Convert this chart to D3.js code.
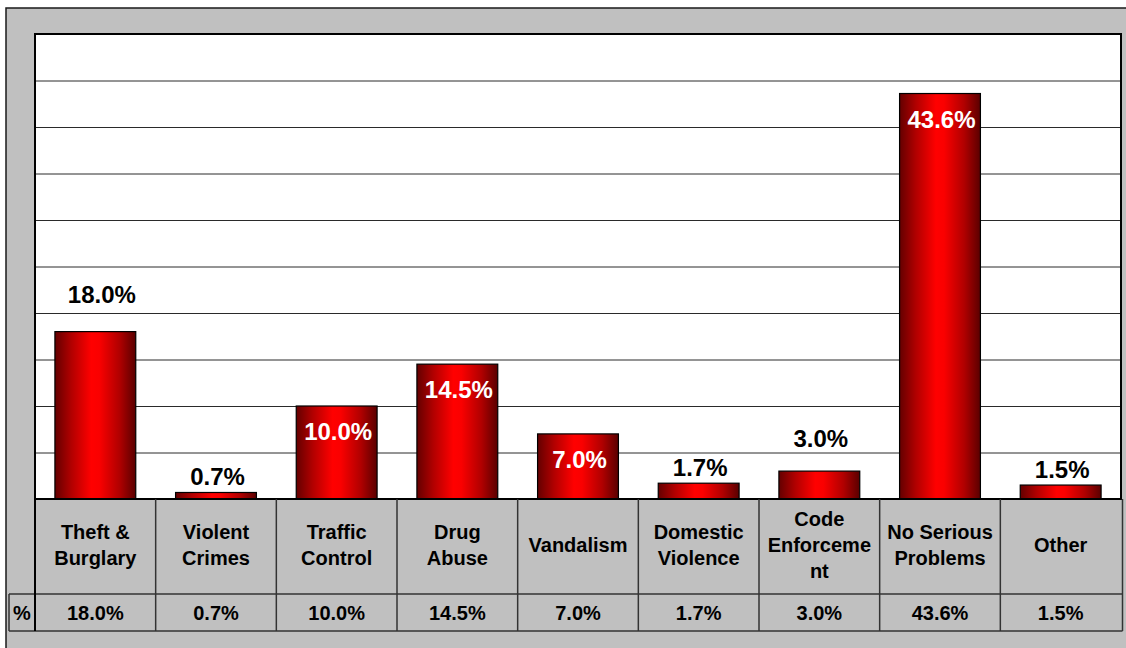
<!DOCTYPE html>
<html>
<head>
<meta charset="utf-8">
<script src="https://cdn.jsdelivr.net/npm/d3@7/dist/d3.min.js"></script>
<style>
  html, body { margin: 0; padding: 0; background: #ffffff; }
  svg { display: block; }
  text { font-family: "Liberation Sans", Arial, sans-serif; font-weight: bold; }
</style>
</head>
<body>
<svg id="chart" width="1126" height="648"></svg>
<script>
// Survey responses: most serious neighbourhood problem (share of respondents)
const categories = [
  ["Theft &", "Burglary"],
  ["Violent", "Crimes"],
  ["Traffic", "Control"],
  ["Drug", "Abuse"],
  ["Vandalism"],
  ["Domestic", "Violence"],
  ["Code", "Enforceme", "nt"],
  ["No Serious", "Problems"],
  ["Other"]
];
const values = [18.0, 0.7, 10.0, 14.5, 7.0, 1.7, 3.0, 43.6, 1.5];
const seriesName = "%";
const yTicks = [0, 5, 10, 15, 20, 25, 30, 35, 40, 45, 50];

const fmt = v => v.toFixed(1) + "%";
const keys = categories.map(c => c.join(" "));

const svg = d3.select("#chart");

// frame and plot geometry
const frame = { x: 6, y: 8 };
const plot = { left: 35, right: 1121, top: 34, bottom: 499 };
const table = { catBottom: 594, valBottom: 631, seriesLeft: 9 };

// outer gray chart background
svg.append("rect")
  .attr("x", frame.x).attr("y", frame.y)
  .attr("width", 1126 - frame.x + 4).attr("height", 648 - frame.y + 4)
  .attr("fill", "#c0c0c0").attr("stroke", "#1a1a1a").attr("stroke-width", 1.5);

const x = d3.scaleBand().domain(keys)
  .range([plot.left, plot.right])
  .paddingInner(0.33).paddingOuter(0.165);
const col = d3.scaleBand().domain(keys).range([plot.left, plot.right]).padding(0);
const y = d3.scaleLinear().domain([0, 50]).range([plot.bottom, plot.top]);

// plot area
svg.append("rect")
  .attr("x", plot.left).attr("y", plot.top)
  .attr("width", plot.right - plot.left).attr("height", plot.bottom - plot.top)
  .attr("fill", "#ffffff");

// horizontal gridlines
const grid = d3.axisLeft(y).tickValues(yTicks)
  .tickSize(-(plot.right - plot.left)).tickFormat("");
svg.append("g")
  .attr("transform", `translate(${plot.left},0)`)
  .call(grid)
  .call(g => g.select(".domain").remove())
  .call(g => g.selectAll(".tick line").attr("stroke", "#2a2a2a").attr("stroke-width", 1));

// cylinder-like shading for the bars
const defs = svg.append("defs");
const grad = defs.append("linearGradient").attr("id", "barShade")
  .attr("x1", "0%").attr("x2", "100%").attr("y1", "0%").attr("y2", "0%");
[[0, "#640000"], [0.2, "#b00000"], [0.45, "#ff0000"], [0.55, "#fa0000"], [0.8, "#b00000"], [1, "#5a0000"]]
  .forEach(([o, c]) => grad.append("stop").attr("offset", o).attr("stop-color", c));

svg.append("g").selectAll("rect")
  .data(values)
  .join("rect")
  .attr("x", (d, i) => x(keys[i]))
  .attr("y", d => y(d))
  .attr("width", x.bandwidth())
  .attr("height", d => y(0) - y(d))
  .attr("fill", "url(#barShade)")
  .attr("stroke", "#000000")
  .attr("stroke-width", 1.2);

// value labels: inside (white) for taller bars, above for the rest
const labelStyle = {
  inside: new Set([2, 3, 4, 7]),
  lift: { 0: 29, 6: 24.5 },
  dx: { 0: 5 }
};
svg.append("g").selectAll("text")
  .data(values)
  .join("text")
  .attr("x", (d, i) => x(keys[i]) + x.bandwidth() / 2 + 1.5 + (labelStyle.dx[i] || 0))
  .attr("y", (d, i) => labelStyle.inside.has(i)
    ? y(d) + 34
    : y(d) - (labelStyle.lift[i] !== undefined ? labelStyle.lift[i] : 7.5))
  .attr("text-anchor", "middle")
  .attr("font-size", 24)
  .attr("fill", (d, i) => labelStyle.inside.has(i) ? "#ffffff" : "#000000")
  .text(d => fmt(d));

// plot border
svg.append("rect")
  .attr("x", plot.left).attr("y", plot.top)
  .attr("width", plot.right - plot.left).attr("height", plot.bottom - plot.top)
  .attr("fill", "none").attr("stroke", "#000000").attr("stroke-width", 2);

// data table below the plot
const tg = svg.append("g");
const lineColor = "#333333";
tg.append("line")
  .attr("x1", table.seriesLeft).attr("x2", plot.right + 1.5)
  .attr("y1", table.catBottom).attr("y2", table.catBottom)
  .attr("stroke", lineColor).attr("stroke-width", 1.5);
tg.append("line")
  .attr("x1", table.seriesLeft).attr("x2", plot.right + 1.5)
  .attr("y1", table.valBottom).attr("y2", table.valBottom)
  .attr("stroke", lineColor).attr("stroke-width", 1.5);
tg.append("line")
  .attr("x1", table.seriesLeft).attr("x2", table.seriesLeft)
  .attr("y1", table.catBottom).attr("y2", table.valBottom)
  .attr("stroke", lineColor).attr("stroke-width", 1.5);
const edges = keys.map(k => col(k)).concat([plot.right + 1.5]);
tg.selectAll("line.col")
  .data(edges)
  .join("line")
  .attr("class", "col")
  .attr("x1", d => d).attr("x2", d => d)
  .attr("y1", plot.bottom).attr("y2", table.valBottom)
  .attr("stroke", (d, i) => i === 0 ? "#000000" : lineColor)
  .attr("stroke-width", (d, i) => i === 0 ? 2 : 1.5);

// category names
const lineGap = 26;
const catMid = (plot.bottom + table.catBottom) / 2;
tg.selectAll("text.cat")
  .data(categories)
  .join("text")
  .attr("class", "cat")
  .attr("text-anchor", "middle")
  .attr("font-size", 20)
  .attr("fill", "#000000")
  .each(function (lines, i) {
    const cx = col(keys[i]) + col.bandwidth() / 2;
    const first = catMid - (lines.length - 1) * lineGap / 2 + 5;
    d3.select(this).selectAll("tspan")
      .data(lines)
      .join("tspan")
      .attr("x", cx)
      .attr("y", (l, j) => first + j * lineGap)
      .text(l => l);
  });

// series values row
const valMid = (table.catBottom + table.valBottom) / 2 + 7;
tg.append("text")
  .attr("x", (table.seriesLeft + plot.left) / 2)
  .attr("y", valMid)
  .attr("text-anchor", "middle")
  .attr("font-size", 20)
  .text(seriesName);
tg.selectAll("text.val")
  .data(values)
  .join("text")
  .attr("class", "val")
  .attr("x", (d, i) => col(keys[i]) + col.bandwidth() / 2)
  .attr("y", valMid)
  .attr("text-anchor", "middle")
  .attr("font-size", 20)
  .text(d => fmt(d));
</script>
</body>
</html>
